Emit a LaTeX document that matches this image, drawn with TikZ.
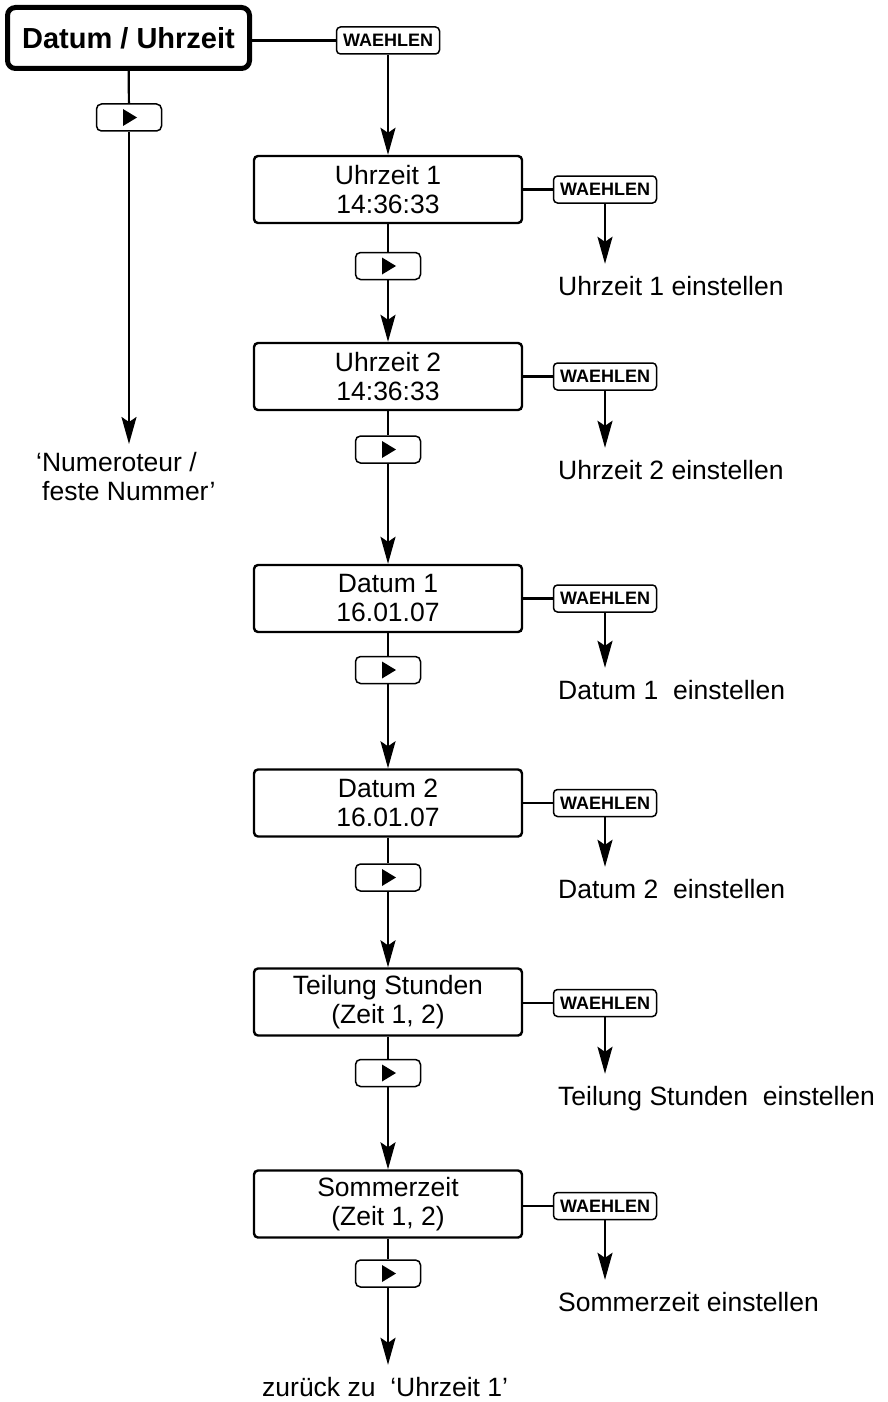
\documentclass[tikz,border=0pt]{standalone}
\usepackage{fontspec}
\setmainfont{Liberation Sans}
\usetikzlibrary{arrows.meta}

\begin{document}
\begin{tikzpicture}
  [x=1pt, y=-1pt,
   headbox/.style={draw, line width=5pt, rounded corners=8pt, minimum width=242pt, minimum height=61pt, inner sep=0pt, font=\fontsize{29}{34}\selectfont\bfseries},
   itembox/.style={draw, line width=2.4pt, rounded corners=4pt, minimum width=268pt, minimum height=67pt, inner sep=0pt, align=center, font=\fontsize{26.5}{29}\selectfont},
   selbox/.style={draw, line width=1.5pt, rounded corners=4pt, minimum width=103pt, minimum height=27pt, inner sep=0pt, font=\fontsize{18}{20}\selectfont\bfseries},
   nextbox/.style={draw, line width=1.5pt, rounded corners=5pt, minimum width=65pt, minimum height=27pt, inner sep=0pt,
     path picture={\fill[sharp corners] ([xshift=-6pt,yshift=8.5pt]path picture bounding box.center) -- ++(14pt,-8.5pt) -- ++(-14pt,-8.5pt) -- cycle;}},
   settxt/.style={anchor=base west, inner xsep=0pt, inner ysep=11pt, text height=20pt, font=\fontsize{26.5}{29}\selectfont},
   lin/.style={line width=2.2pt},
   arr/.style={line width=2.2pt, -{Stealth[length=27pt, width=15pt, inset=5pt]}}]

  \newcommand{\colx}{388}
  \newcommand{\selx}{605}
  \newcommand{\txtx}{558}

  \useasboundingbox (0,0) rectangle (887,1402);

  \node (head) at (128.5,38) [headbox] {Datum / Uhrzeit};
  \node (w0) at (\colx,40.5) [selbox] {WAEHLEN};
  \node (p0) at (129,117.5) [nextbox] {};
  \node (num) at (36,444) [anchor=north west, align=left, inner xsep=0pt, inner ysep=8pt, font=\fontsize{26.5}{29}\selectfont]
    {‘Numeroteur /\\\hspace*{6pt}feste Nummer’};

  \draw[lin] (head.east |- w0.west) -- (w0.west);
  \draw[lin] (head) -- (p0);
  \draw[arr] (p0) -- (p0 |- num.north);

  \node (b1) at (\colx,189.5) [itembox] {Uhrzeit 1\\14:36:33};
  \node (w1) at (\selx,189.5) [selbox] {WAEHLEN};
  \node (p1) at (\colx,266) [nextbox] {};
  \node (l1) at (\txtx,295) [settxt] {Uhrzeit 1 einstellen};

  \node (b2) at (\colx,376.5) [itembox] {Uhrzeit 2\\14:36:33};
  \node (w2) at (\selx,376.5) [selbox] {WAEHLEN};
  \node (p2) at (\colx,449.5) [nextbox] {};
  \node (l2) at (\txtx,479) [settxt] {Uhrzeit 2 einstellen};

  \node (b3) at (\colx,598.5) [itembox] {Datum 1\\16.01.07};
  \node (w3) at (\selx,598.5) [selbox] {WAEHLEN};
  \node (p3) at (\colx,670) [nextbox] {};
  \node (l3) at (\txtx,699) [settxt] {Datum 1~ einstellen};

  \node (b4) at (\colx,803) [itembox] {Datum 2\\16.01.07};
  \node (w4) at (\selx,803) [selbox] {WAEHLEN};
  \node (p4) at (\colx,877.5) [nextbox] {};
  \node (l4) at (\txtx,898) [settxt] {Datum 2~ einstellen};

  \node (b5) at (\colx,1002) [itembox] {Teilung Stunden\\(Zeit 1, 2)};
  \node (w5) at (\selx,1003) [selbox] {WAEHLEN};
  \node (p5) at (\colx,1073) [nextbox] {};
  \node (l5) at (\txtx,1105) [settxt] {Teilung Stunden~ einstellen};

  \node (b6) at (\colx,1204) [itembox] {Sommerzeit\\(Zeit 1, 2)};
  \node (w6) at (\selx,1206) [selbox] {WAEHLEN};
  \node (p6) at (\colx,1273.5) [nextbox] {};
  \node (l6) at (\txtx,1311) [settxt] {Sommerzeit einstellen};

  \node (back) at (262,1396) [settxt] {zurück zu~ ‘Uhrzeit 1’};

  \draw[arr] (w0) -- (w0 |- b1.north);

  \draw[lin] (b1.east |- w1.west) -- (w1.west);
  \draw[arr] (w1) -- (w1 |- l1.north);
  \draw[lin] (b1) -- (p1);
  \draw[arr] (p1) -- (b2);

  \draw[lin] (b2.east |- w2.west) -- (w2.west);
  \draw[arr] (w2) -- (w2 |- l2.north);
  \draw[lin] (b2) -- (p2);
  \draw[arr] (p2) -- (b3);

  \draw[lin] (b3.east |- w3.west) -- (w3.west);
  \draw[arr] (w3) -- (w3 |- l3.north);
  \draw[lin] (b3) -- (p3);
  \draw[arr] (p3) -- (b4);

  \draw[lin] (b4.east |- w4.west) -- (w4.west);
  \draw[arr] (w4) -- (w4 |- l4.north);
  \draw[lin] (b4) -- (p4);
  \draw[arr] (p4) -- (b5);

  \draw[lin] (b5.east |- w5.west) -- (w5.west);
  \draw[arr] (w5) -- (w5 |- l5.north);
  \draw[lin] (b5) -- (p5);
  \draw[arr] (p5) -- (b6);

  \draw[lin] (b6.east |- w6.west) -- (w6.west);
  \draw[arr] (w6) -- (w6 |- l6.north);
  \draw[lin] (b6) -- (p6);
  \draw[arr] (p6) -- (p6 |- back.north);

\end{tikzpicture}
\end{document}
